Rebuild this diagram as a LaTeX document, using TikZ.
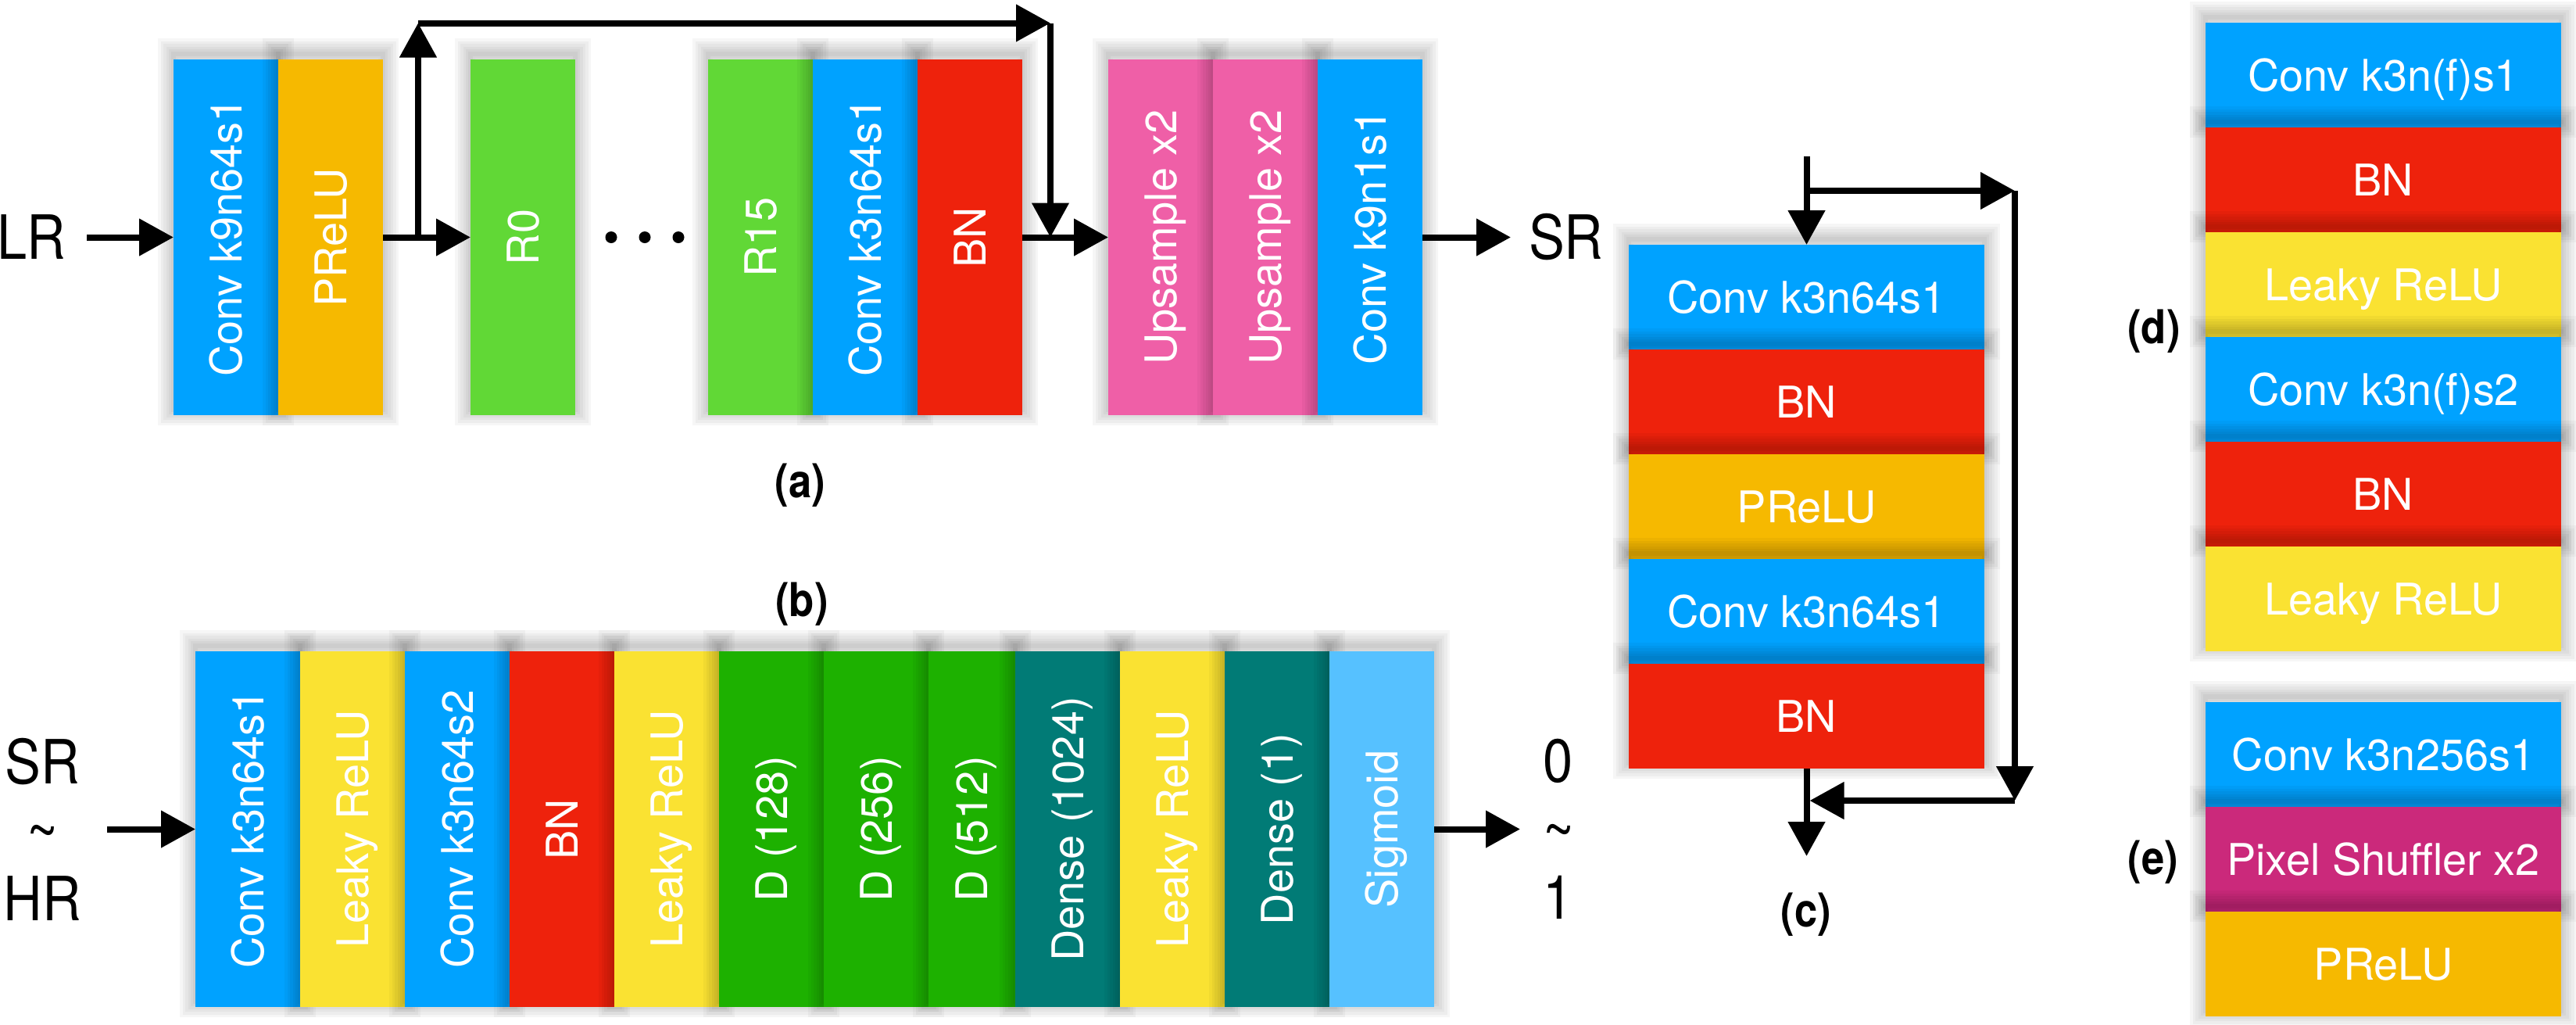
\documentclass[tikz,border=0pt]{standalone}
\usepackage{fontspec}
\setmainfont{TeX Gyre Heros}
\newfontfamily\condfont[FakeStretch=0.88]{TeX Gyre Heros}
\usetikzlibrary{positioning, arrows.meta}
\definecolor{convblue}{HTML}{00A2FF}
\definecolor{preluorange}{HTML}{F6B900}
\definecolor{resgreen}{HTML}{61D836}
\definecolor{bnred}{HTML}{EE220C}
\definecolor{uppink}{HTML}{EF5FA7}
\definecolor{leakyyellow}{HTML}{FAE232}
\definecolor{dgreen}{HTML}{1DB100}
\definecolor{denseteal}{HTML}{017B76}
\definecolor{sigblue}{HTML}{56C1FF}
\definecolor{shufmagenta}{HTML}{CB297B}
\newcommand{\vtext}[1]{\rotatebox{90}{\raisebox{0pt}[11.4pt][0pt]{#1}}}
\tikzset{shade layer/.style={preaction={draw=black, draw opacity=0.035, line width=#1, transform canvas={yshift=0.07cm}}}}
\tikzstyle{soft}=[shade layer=0.40cm, shade layer=0.33cm, shade layer=0.26cm, shade layer=0.19cm, shade layer=0.12cm, shade layer=0.06cm]
\tikzstyle{vblock}=[rectangle, soft, minimum width=1.34cm, minimum height=4.55cm, inner sep=0pt, outer sep=0pt, text=white, font=\fontsize{15.9pt}{19pt}\selectfont]
\tikzstyle{hblock}=[rectangle, soft, minimum width=4.55cm, minimum height=1.34cm, inner sep=0pt, outer sep=0pt, text=white, text height=11.4pt, text depth=0pt, font=\fontsize{15.9pt}{19pt}\selectfont]
\tikzstyle{io}=[inner ysep=0pt, align=center, font=\condfont\fontsize{22.2pt}{24.9pt}\selectfont]
\tikzstyle{sub}=[inner sep=0pt, font=\condfont\bfseries\fontsize{17pt}{20pt}\selectfont]

\begin{document}
\begin{tikzpicture}[>={Triangle[length=0.44cm,width=0.46cm]}, line width=0.08cm]
  \useasboundingbox (0,0) rectangle (32.96,-13.10);
  % (a)
  \node[vblock, fill=convblue, anchor=north west] (a1) at (2.22,-0.76) {\vtext{Conv k9n64s1}};
  \node[vblock, fill=preluorange, right=0pt of a1] (a2) {\vtext{PReLU}};
  \node[vblock, fill=resgreen, right=1.12cm of a2] (r0) {\vtext{R0}};
  \node[vblock, fill=resgreen, right=1.70cm of r0] (r15) {\vtext{R15}};
  \node[vblock, fill=convblue, right=0pt of r15] (a3) {\vtext{Conv k3n64s1}};
  \node[vblock, fill=bnred, right=0pt of a3] (bn) {\vtext{BN}};
  \node[vblock, fill=uppink, right=1.10cm of bn] (up1) {\vtext{Upsample x2}};
  \node[vblock, fill=uppink, right=0pt of up1] (up2) {\vtext{Upsample x2}};
  \node[vblock, fill=convblue, right=0pt of up2] (a4) {\vtext{Conv k9n1s1}};
  \node[io, inner xsep=0.23cm, left=1.11cm of a1] (lr) {LR};
  \node[io, inner xsep=0.19cm, right=1.13cm of a4] (sra) {SR};
  \coordinate[right=0.45cm of a2] (split);
  \coordinate[above=2.74cm of split] (skipa);
  \coordinate[right=0.36cm of bn] (join);
  \coordinate (skipb) at (skipa -| join);
  \coordinate[right=0.89cm of r0] (gap);
  \foreach \dx in {-0.43,0,0.43}
    \fill ([xshift=\dx cm]gap) circle (0.075cm);
  \draw[->] (lr) -- (a1);
  \draw[->] (a2) -- (r0);
  \draw[->] (split) -- (skipa);
  \draw[->] (skipa) -- (skipb);
  \draw[->] (skipb) -- (join);
  \draw[->] (bn) -- (up1);
  \draw[->] (a4) -- (sra);
  \node[sub] (la) at (10.24,-6.21) {(a)};

  % (b)
  \node[vblock, fill=convblue, anchor=north west] (b1) at (2.50,-8.33) {\vtext{Conv k3n64s1}};
  \node[vblock, fill=leakyyellow, right=0pt of b1] (b2) {\vtext{Leaky ReLU}};
  \node[vblock, fill=convblue, right=0pt of b2] (b3) {\vtext{Conv k3n64s2}};
  \node[vblock, fill=bnred, right=0pt of b3] (b4) {\vtext{BN}};
  \node[vblock, fill=leakyyellow, right=0pt of b4] (b5) {\vtext{Leaky ReLU}};
  \node[vblock, fill=dgreen, right=0pt of b5] (b6) {\vtext{D (128)}};
  \node[vblock, fill=dgreen, right=0pt of b6] (b7) {\vtext{D (256)}};
  \node[vblock, fill=dgreen, minimum width=1.11cm, right=0pt of b7] (b8) {\vtext{D (512)}};
  \node[vblock, fill=denseteal, right=0pt of b8] (b9) {\vtext{Dense (1024)}};
  \node[vblock, fill=leakyyellow, right=0pt of b9] (b10) {\vtext{Leaky ReLU}};
  \node[vblock, fill=denseteal, right=0pt of b10] (b11) {\vtext{Dense (1)}};
  \node[vblock, fill=sigblue, right=0pt of b11] (b12) {\vtext{Sigmoid}};
  \node[io, inner xsep=0.29cm, left=1.13cm of b1] (inb) {SR\\\textasciitilde\\HR};
  \node[io, inner xsep=0.25cm, right=1.10cm of b12] (outb) {0\\\textasciitilde\\1};
  \draw[->] (inb) -- (b1);
  \draw[->] (b12) -- (outb);
  \node[sub] (lb) at (10.26,-7.73) {(b)};

  % (c)
  \node[hblock, fill=convblue, anchor=north west] (c1) at (20.84,-3.13) {Conv k3n64s1};
  \node[hblock, fill=bnred, below=0pt of c1] (c2) {BN};
  \node[hblock, fill=preluorange, below=0pt of c2] (c3) {PReLU};
  \node[hblock, fill=convblue, below=0pt of c3] (c4) {Conv k3n64s1};
  \node[hblock, fill=bnred, below=0pt of c4] (c5) {BN};
  \coordinate[above=1.13cm of c1] (cin);
  \coordinate[above=0.69cm of c1] (csplit);
  \coordinate[right=0.39cm of c1] (cright);
  \coordinate (cturn) at (csplit -| cright);
  \coordinate[below=0.41cm of c5] (cjoin);
  \coordinate (cturnb) at (cjoin -| cright);
  \coordinate[below=1.12cm of c5] (cout);
  \draw[->] (cin) -- (c1);
  \draw[->] (csplit) -- (cturn);
  \draw[->] (cturn) -- (cturnb);
  \draw[->, shorten >=0.04cm] (cturnb) -- (cjoin);
  \draw[->] (c5) -- (cout);
  \node[sub] (lc) at (23.11,-11.70) {(c)};

  % (d)
  \node[hblock, fill=convblue, anchor=north west] (d1) at (28.22,-0.29) {Conv k3n(f)s1};
  \node[hblock, fill=bnred, below=0pt of d1] (d2) {BN};
  \node[hblock, fill=leakyyellow, below=0pt of d2] (d3) {Leaky ReLU};
  \node[hblock, fill=convblue, below=0pt of d3] (d4) {Conv k3n(f)s2};
  \node[hblock, fill=bnred, below=0pt of d4] (d5) {BN};
  \node[hblock, fill=leakyyellow, below=0pt of d5] (d6) {Leaky ReLU};
  \node[sub] (ld) at (27.56,-4.24) {(d)};

  % (e)
  \node[hblock, fill=convblue, anchor=north west] (e1) at (28.22,-8.98) {Conv k3n256s1};
  \node[hblock, fill=shufmagenta, below=0pt of e1] (e2) {Pixel Shuffler x2};
  \node[hblock, fill=preluorange, below=0pt of e2] (e3) {PReLU};
  \node[sub] (le) at (27.55,-11.03) {(e)};
\end{tikzpicture}
\end{document}
